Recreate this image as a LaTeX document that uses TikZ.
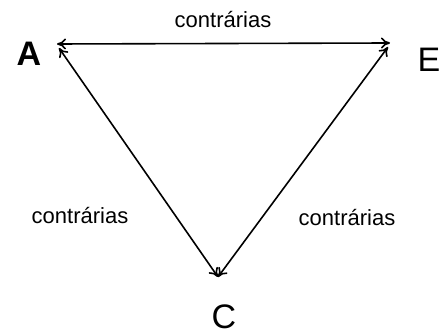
\documentclass[tikz,border=0pt]{standalone}
\usepackage{fontspec}
\setmainfont{Liberation Sans}
\usetikzlibrary{arrows.meta}

\begin{document}
\begin{tikzpicture}[x=1pt,y=-1pt,line width=1.6pt,
  vertex/.style={inner sep=0pt,font=\fontsize{34}{38}\selectfont},
  rel/.style={{To[length=9pt,width=11pt]}-{To[length=9pt,width=11pt]}},
  tag/.style={inner sep=0pt,font=\fontsize{22}{26}\selectfont}]
\path[use as bounding box] (0,0) rectangle (440,336);
\node[vertex,font=\fontsize{34}{38}\selectfont\bfseries] (A) at (29,54) {A};
\node[vertex] (E) at (429,60) {E};
\node[vertex] (C) at (224,317) {C};
\coordinate (tA) at (57,44);
\coordinate (tE) at (390,43);
\coordinate (tC) at (218,277);
\coordinate (sA) at (59,48);
\coordinate (sE) at (388,47);
\draw[rel] (tA) -- (tE);
\draw[rel] (sA) -- (tC);
\draw[rel] (sE) -- (tC);
\node[tag] (top) at (223,20) {contrárias};
\node[tag] (left) at (80,216) {contrárias};
\node[tag] (right) at (347,218) {contrárias};
\end{tikzpicture}
\end{document}
